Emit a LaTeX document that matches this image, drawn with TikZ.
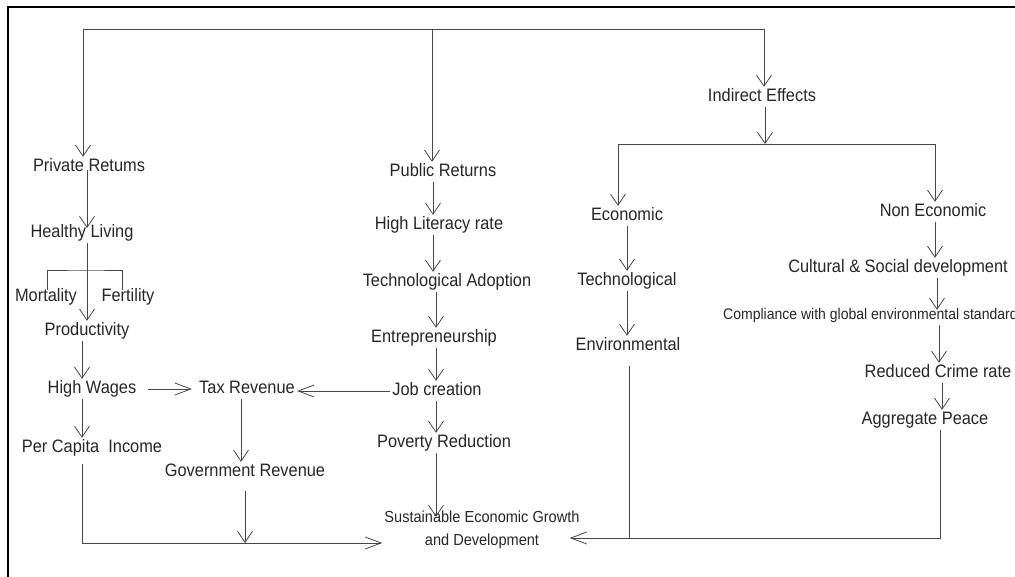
\documentclass[tikz,border=0pt]{standalone}
\usepackage{fontspec}
\setmainfont{Liberation Sans}[FakeStretch=0.91]
\usetikzlibrary{arrows.meta,calc}
\definecolor{ink}{HTML}{262626}
\definecolor{wire}{HTML}{474747}
\begin{document}
\begin{tikzpicture}[x=1pt,y=-1pt,
  lbl/.style={text=ink,font=\fontsize{18}{21}\selectfont,inner sep=2pt,
              text height=12.5pt,text depth=3.5pt},
  small/.style={lbl,font=\fontsize{15.4}{18}\selectfont},
  goal/.style={text=ink,font=\fontsize{16}{23}\selectfont,align=center,inner sep=2pt},
  link/.style={draw=wire,line width=0.8pt},
  arr/.style={link,-{Straight Barb[length=11pt,width=15pt]}},
  harr/.style={link,-{Straight Barb[length=16pt,width=12pt]}}]
\useasboundingbox (0,0) rectangle (1015,577);
% outer frame (left and top edges)
\draw[black,line width=1.3pt] (8,577) -- (8,7) -- (1015,7);

% private returns column
\node[lbl] (pr)   at (89,167)  {Private Retums};
\node[lbl] (hl)   at (82,233)  {Healthy Living};
\node[lbl] (mort) at (46,297)  {Mortality};
\node[lbl] (fert) at (128,297) {Fertility};
\node[lbl] (prod) at (87,331)  {Productivity};
\node[lbl] (hw)   at (92,389)  {High Wages};
\node[lbl] (pci)  at (92,448)  {Per Capita\ \ Income};
\node[lbl] (tax)  at (247,389) {Tax Revenue};
\node[lbl] (gov)  at (245,472) {Government Revenue};

% public returns column
\node[lbl] (pub)  at (443,172) {Public Returns};
\node[lbl] (lit)  at (439,225) {High Literacy rate};
\node[lbl] (tech) at (447,282) {Technological Adoption};
\node[lbl] (ent)  at (434,338) {Entrepreneurship};
\node[lbl] (job)  at (437,391) {Job creation};
\node[lbl] (pov)  at (444,443) {Poverty Reduction};
\node[goal] (segd) at (482,530) {Sustainable Economic Growth\\and Development};

% indirect effects
\node[lbl] (ind)   at (762,97)  {Indirect Effects};
\node[lbl] (eco)   at (627,216) {Economic};
\node[lbl] (techn) at (627,281) {Technological};
\node[lbl] (env)   at (628,346) {Environmental};
\node[lbl] (neco)  at (933,212) {Non Economic};
\node[lbl] (cult)  at (898,268) {Cultural \& Social development};
\node[small,anchor=west] (comp) at (721,315) {Compliance with global environmental standards};
\node[lbl] (crime) at (938,373) {Reduced Crime rate};
\node[lbl] (peace) at (925,420) {Aggregate Peace};

% top distribution bus
\coordinate (busL) at (83,29);
\coordinate (busM) at (432,29);
\coordinate (busR) at (764,29);
\draw[link] (busL) -- (busR);
\draw[arr] (busL) -- (busL |- pr.north);
\draw[arr] (busM) -- (busM |- pub.north);
\draw[arr] (busR) -- (busR |- ind.north);

% private chain
\draw[arr] ($(87,0 |- pr.center)+(0,3)$) -- ($(87,0 |- hl.center)+(0,-5)$);
\coordinate (br) at (87,270);
\draw[arr] (87,0 |- hl.south) -- (87,0 |- prod.north);
\draw[link] ($(47,0 |- mort.north)+(0,3)$) |- (br) -| ($(122,0 |- fert.north)+(0,3)$);
\draw[arr] (82,0 |- prod.south) -- (82,0 |- hw.north);
\draw[arr] (82,0 |- hw.south) -- (82,0 |- pci.north);
\draw[harr,shorten <=9pt,shorten >=5pt] (hw.east) -- (tax.west);
\draw[harr] (job.west) -- (tax.east |- job.west);
\draw[arr] (241,0 |- tax.south) -- (241,0 |- gov.north);
\coordinate (pciL) at (82,543);
\draw[harr] ($(82,0 |- pci.south)+(0,6)$) -- (pciL) -- (segd.west |- pciL);
\draw[arr] ($(245,0 |- gov.south)+(0,9)$) -- (245,0 |- pciL);

% public chain
\draw[arr] (433,0 |- pub.south) -- (433,0 |- lit.north);
\draw[arr] (433,0 |- lit.south) -- (433,0 |- tech.north);
\draw[arr] (436,0 |- tech.south) -- (436,0 |- ent.north);
\draw[arr] (436,0 |- ent.south) -- (436,0 |- job.north);
\draw[arr] (436,0 |- job.south) -- (436,0 |- pov.north);
\draw[arr,shorten >=-8pt] (436,0 |- pov.south) -- (436,0 |- segd.north);

% indirect effects split
\coordinate (b2L) at (618,144);
\coordinate (b2R) at (935,144);
\draw[arr] (765,0 |- ind.south) -- (765,144);
\draw[link] (b2L) -- (b2R);
\draw[arr] (b2L) -- (b2L |- eco.north);
\draw[arr] (b2R) -- (b2R |- neco.north);

% economic chain
\draw[arr] (627,0 |- eco.south) -- (627,0 |- techn.north);
\draw[arr] (627,0 |- techn.south) -- (627,0 |- env.north);

% non-economic chain
\draw[arr] (935,0 |- neco.south) -- (935,0 |- cult.north);
\draw[arr,shorten >=-5pt] (937,0 |- cult.south) -- (937,0 |- comp.north);
\draw[arr] (939,0 |- comp.south) -- (939,0 |- crime.north);
\draw[arr] (942,0 |- crime.south) -- (942,0 |- peace.north);

% return into the goal
\coordinate (jR) at (940,538);
\draw[harr,shorten >=-12pt] (940,0 |- peace.south) -- (jR) -- (segd.east |- jR);
\draw[link] ($(629,0 |- env.south)+(0,10)$) -- (629,0 |- jR);
\end{tikzpicture}
\end{document}
